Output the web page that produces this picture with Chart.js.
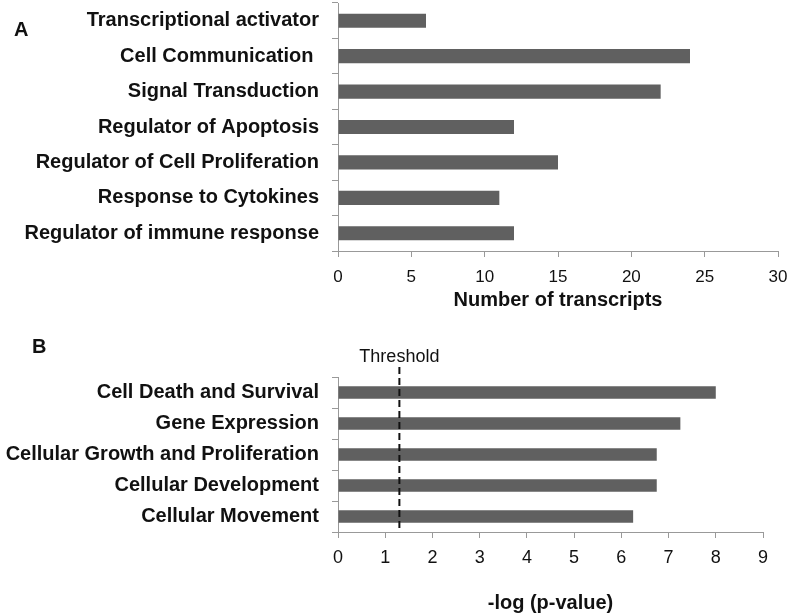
<!DOCTYPE html>
<html>
<head>
<meta charset="utf-8">
<script src="https://cdn.jsdelivr.net/npm/chart.js@4.4.0/dist/chart.umd.min.js"></script>
<style>
  html, body { margin: 0; padding: 0; background: #fff; }
  #wrap { position: relative; width: 789px; height: 616px; overflow: hidden; }
  #cA { position: absolute; left: 0; top: 0; }
  #cB { position: absolute; left: 0; top: 330px; }
</style>
</head>
<body>
<div id="wrap">
  <canvas id="cA" width="789" height="320"></canvas>
  <canvas id="cB" width="789" height="286"></canvas>
</div>
<script>
// ---- Data ----
const categoriesA = [
  "Transcriptional activator",
  "Cell Communication ",
  "Signal Transduction",
  "Regulator of Apoptosis",
  "Regulator of Cell Proliferation",
  "Response to Cytokines",
  "Regulator of immune response"
];
const transcriptCounts = [6, 24, 22, 12, 15, 11, 12];
const ticksA = [0, 5, 10, 15, 20, 25, 30];

const categoriesB = [
  "Cell Death and Survival",
  "Gene Expression",
  "Cellular Growth and Proliferation",
  "Cellular Development",
  "Cellular Movement"
];
const negLogP = [8, 7.25, 6.75, 6.75, 6.25];
const ticksB = [0, 1, 2, 3, 4, 5, 6, 7, 8, 9];
const thresholdValue = 1.3;

// ---- Styling ----
const FONT = "'Liberation Sans', Arial, Helvetica, sans-serif";
const BAR = "#606060";
const AXIS = "#999999";
const TEXT = "#111111";
Chart.defaults.font.family = FONT;
Chart.defaults.color = TEXT;

const panelLabel = (txt, x, y) => ({
  id: 'panel' + txt,
  afterDraw(chart) {
    const ctx = chart.ctx;
    ctx.save();
    ctx.font = "bold 20px " + FONT;
    ctx.fillStyle = TEXT;
    ctx.textAlign = 'left';
    ctx.textBaseline = 'middle';
    ctx.fillText(txt, x, y);
    ctx.restore();
  }
});

const thresholdPlugin = {
  id: 'threshold',
  afterDatasetsDraw(chart) {
    const xs = chart.scales.x;
    const area = chart.chartArea;
    const x = xs.getPixelForValue(thresholdValue);
    const ctx = chart.ctx;
    ctx.save();
    ctx.strokeStyle = "#111";
    ctx.lineWidth = 2;
    ctx.setLineDash([7, 4]);
    ctx.beginPath();
    ctx.moveTo(x, area.top - 10);
    ctx.lineTo(x, area.bottom);
    ctx.stroke();
    ctx.setLineDash([]);
    ctx.font = "18px " + FONT;
    ctx.fillStyle = TEXT;
    ctx.textAlign = 'center';
    ctx.textBaseline = 'middle';
    ctx.fillText("Threshold", x, area.top - 20);
    ctx.restore();
  }
};

function makeChart(canvasId, labels, values, xMax, step, tickList, tickFontSize, tickPad, title, pad, xHeight, plugins) {
  return new Chart(document.getElementById(canvasId), {
    type: 'bar',
    data: {
      labels: labels,
      datasets: [{
        data: values,
        backgroundColor: BAR,
        borderWidth: 0,
        categoryPercentage: 1.0,
        barPercentage: 0.4
      }]
    },
    options: {
      indexAxis: 'y',
      responsive: false,
      animation: false,
      layout: { padding: pad },
      plugins: { legend: { display: false }, tooltip: { enabled: false } },
      scales: {
        x: {
          min: 0, max: xMax,
          afterBuildTicks(scale) { scale.ticks = tickList.map(v => ({ value: v })); },
          afterFit(scale) { scale.height = xHeight; scale.paddingLeft = 0; scale.paddingRight = 0; },
          border: { display: true, color: AXIS, width: 1 },
          grid: { drawOnChartArea: false, drawTicks: true, tickLength: 6, color: AXIS },
          ticks: { font: { size: tickFontSize }, color: TEXT, padding: tickPad, maxRotation: 0, stepSize: step },
          title: { display: true, text: title, font: { size: 20, weight: 'bold' }, color: TEXT, padding: { top: 0, bottom: 0 } }
        },
        y: {
          afterFit(scale) { scale.width = 338; scale.paddingTop = 0; scale.paddingBottom = 0; },
          border: { display: true, color: AXIS, width: 1 },
          grid: { drawOnChartArea: false, drawTicks: true, tickLength: 6, color: AXIS, offset: true },
          ticks: { font: { size: 20, weight: 'bold' }, color: TEXT, padding: 13, autoSkip: false }
        }
      }
    },
    plugins: plugins
  });
}

makeChart('cA', categoriesA, transcriptCounts, 30, 5, ticksA, 17, 10,
  "Number of transcripts", { top: 3, right: 11, bottom: 8, left: 0 }, 61,
  [panelLabel('A', 14, 30)]);

makeChart('cB', categoriesB, negLogP, 9, 1, ticksB, 18, 9,
  "-log (p-value)", { top: 47, right: 26, bottom: 1, left: 0 }, 83,
  [panelLabel('B', 32, 17), thresholdPlugin]);
</script>
</body>
</html>
